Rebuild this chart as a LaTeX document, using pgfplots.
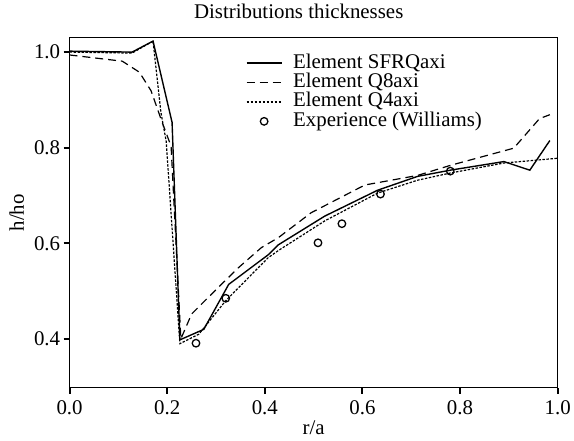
\documentclass[border=0pt]{standalone}
\usepackage{fontspec}
\setmainfont{Liberation Serif}
\usepackage{pgfplots}
\pgfplotsset{compat=1.18}

\begin{document}
\begin{tikzpicture}
\begin{axis}[
    scale only axis,
    width=491pt, height=352pt,
    xmin=0, xmax=1, ymin=0.298, ymax=1.03,
    xtick={0,0.2,...,1.0}, ytick={0.4,0.6,0.8,1.0},
    xticklabel style={yshift=-3pt, /pgf/number format/.cd, fixed, fixed zerofill, precision=1},
    yticklabel style={/pgf/number format/.cd, fixed, fixed zerofill, precision=1},
    /pgf/number format/assume math mode=true,
    tick align=outside, tick pos=left,
    major tick length=6pt,
    tick style={line width=2pt, black},
    axis line style={line width=1.3pt},
    font=\fontsize{21}{21}\selectfont,
    title={Distributions thicknesses},
    title style={xshift=-15pt, yshift=10pt},
    xlabel={r/a}, ylabel={h/ho},
    xlabel style={yshift=0pt},
    ylabel style={yshift=3pt},
    legend style={at={(0.355,0.962)}, anchor=north west, draw=none, fill=none,
        font=\fontsize{21}{21}\selectfont, row sep=-0.5pt,
        nodes={inner ysep=1pt, inner xsep=2pt, text height=14pt, text depth=4pt}},
    legend cell align=left,
    legend image code/.code={\draw[mark repeat=2,mark phase=2,#1]
        plot coordinates {(0pt,0pt) (17.5pt,0pt) (35pt,0pt)};
        \path (44pt,0pt);},
]
\addplot[black, line width=1.4pt] coordinates {
    (0,1.002) (0.128,1.0) (0.171,1.023) (0.21,0.853) (0.226,0.398)
    (0.275,0.42) (0.326,0.514) (0.407,0.576) (0.428,0.597) (0.523,0.657)
    (0.631,0.711) (0.713,0.740) (0.78,0.753) (0.89,0.771) (0.943,0.753)
    (0.984,0.815)
};
\addlegendentry{Element SFRQaxi}
\addplot[black, line width=1.2pt, dash pattern=on 8pt off 5pt] coordinates {
    (0,0.994) (0.108,0.981) (0.143,0.958) (0.167,0.919) (0.189,0.855)
    (0.208,0.803) (0.228,0.40) (0.25,0.452) (0.299,0.502) (0.346,0.549)
    (0.393,0.591) (0.428,0.612) (0.495,0.664) (0.605,0.722) (0.713,0.742)
    (0.78,0.763) (0.91,0.799) (0.963,0.861) (0.984,0.869)
};
\addlegendentry{Element Q8axi}
\addplot[black, line width=1.2pt, dash pattern=on 2.5pt off 1.5pt] coordinates {
    (0,1.0) (0.128,0.998) (0.171,1.023) (0.187,0.875) (0.198,0.813)
    (0.226,0.39) (0.265,0.41) (0.32,0.48) (0.407,0.570) (0.428,0.585)
    (0.523,0.647) (0.631,0.705) (0.713,0.732) (0.78,0.747) (0.89,0.768)
    (0.957,0.774) (1.0,0.778)
};
\addlegendentry{Element Q4axi}
\addplot[black, only marks, mark=o, mark size=3.8pt, line width=1.3pt] coordinates {
    (0.259,0.391) (0.32,0.485) (0.509,0.601) (0.558,0.641) (0.637,0.703)
    (0.78,0.751)
};
\addlegendentry{Experience (Williams)}
\end{axis}
\path ([xshift=-70pt,yshift=-53pt]current axis.south west)
    rectangle ([xshift=13pt,yshift=38pt]current axis.north east);
\end{tikzpicture}
\end{document}
